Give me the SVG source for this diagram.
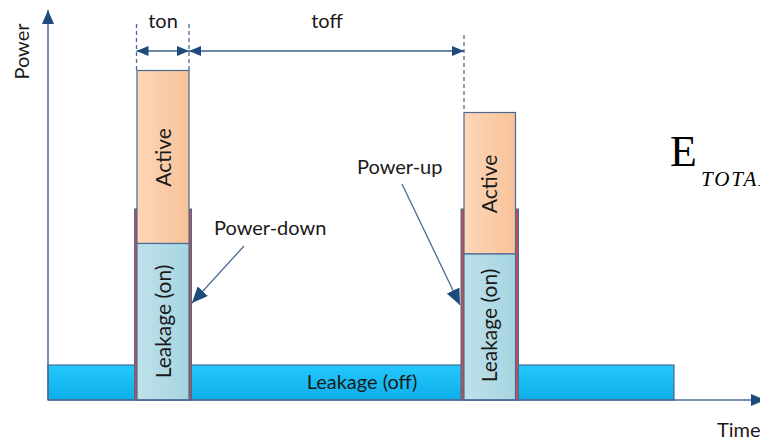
<svg xmlns="http://www.w3.org/2000/svg" width="760" height="441" viewBox="0 0 760 441">
  <style>
    .lbl { font-family: Lato, "Open Sans", sans-serif; font-size: 20px; fill: #1a1a1a; }
    .vlbl { font-family: Lato, "Open Sans", sans-serif; font-size: 21px; fill: #1a1a1a; text-anchor: middle; }
    .axis { stroke: #4a6a96; stroke-width: 1.5; fill: none; }
    .dash { stroke: #4a6a96; stroke-width: 1.3; stroke-dasharray: 4 3; fill: none; }
    .dim { stroke: #3c5f8c; stroke-width: 1.5; fill: none; }
    .ptr { stroke: #4a6a96; stroke-width: 1.3; fill: none; }
    .shell { fill: #c0504d; stroke: #4a6a96; stroke-width: 1; }
    .box { stroke: #4a6a96; stroke-width: 1.2; }
  </style>
  <defs>
    <linearGradient id="gActive" x1="0" y1="0" x2="1" y2="0">
      <stop offset="0" stop-color="#fdd7b9"/>
      <stop offset="1" stop-color="#f8c298"/>
    </linearGradient>
    <linearGradient id="gOn" x1="0" y1="0" x2="1" y2="0">
      <stop offset="0" stop-color="#bfe1ea"/>
      <stop offset="1" stop-color="#a6d4e1"/>
    </linearGradient>
    <linearGradient id="gOff" x1="0" y1="0" x2="0" y2="1">
      <stop offset="0" stop-color="#25c8fd"/>
      <stop offset="1" stop-color="#0cafe8"/>
    </linearGradient>
    <marker id="head" viewBox="0 0 12 10" refX="12" refY="5" markerWidth="12" markerHeight="10" markerUnits="userSpaceOnUse" orient="auto-start-reverse">
      <path d="M0,0 L12,5 L0,10 Z" fill="#1f4a7d"/>
    </marker>
    <marker id="ptrHead" viewBox="0 0 16 14" refX="16" refY="7" markerWidth="16" markerHeight="14" markerUnits="userSpaceOnUse" orient="auto">
      <path d="M0,0 L16,7 L0,14 Z" fill="#1f4a7d"/>
    </marker>
    <marker id="axisHead" viewBox="0 0 14 12" refX="14" refY="6" markerWidth="14" markerHeight="12" markerUnits="userSpaceOnUse" orient="auto">
      <path d="M0,0 L14,6 L0,12 Z" fill="#1f4a7d"/>
    </marker>
  </defs>

  <!-- leakage while powered off -->
  <g id="leakage-off">
    <rect x="48" y="365" width="626" height="35" fill="url(#gOff)" stroke="#4a6a96" stroke-width="1.2"/>
    <text class="lbl" x="362" y="389" text-anchor="middle">Leakage (off)</text>
  </g>

  <!-- first active burst -->
  <g id="burst-1">
    <rect class="shell" x="134.5" y="209" width="57" height="191"/>
    <rect class="box" x="137" y="70.5" width="52" height="173" fill="url(#gActive)"/>
    <rect class="box" x="137" y="243.5" width="52" height="156.5" fill="url(#gOn)"/>
    <text class="vlbl" transform="translate(170.5,157.5) rotate(-90)">Active</text>
    <text class="vlbl" transform="translate(170.5,321.5) rotate(-90)">Leakage (on)</text>
  </g>

  <!-- second active burst -->
  <g id="burst-2">
    <rect class="shell" x="461" y="209" width="57.5" height="191"/>
    <rect class="box" x="464" y="112.5" width="51.5" height="141.5" fill="url(#gActive)"/>
    <rect class="box" x="464" y="254" width="51.5" height="146" fill="url(#gOn)"/>
    <text class="vlbl" transform="translate(497,184) rotate(-90)">Active</text>
    <text class="vlbl" transform="translate(497,325.5) rotate(-90)">Leakage (on)</text>
  </g>

  <!-- axes -->
  <g id="axes">
    <line class="axis" x1="48" y1="400" x2="48" y2="10" marker-end="url(#axisHead)"/>
    <line class="axis" x1="48" y1="400" x2="765" y2="400" marker-end="url(#axisHead)"/>
    <text class="lbl" transform="translate(29,51.5) rotate(-90)" text-anchor="middle" font-size="21">Power</text>
    <text class="lbl" x="717" y="437" font-size="21">Time</text>
  </g>

  <!-- timing dimensions and callouts -->
  <g id="connectors">
    <line class="dash" x1="136.5" y1="24" x2="136.5" y2="70"/>
    <line class="dash" x1="189" y1="24" x2="189" y2="70"/>
    <line class="dash" x1="464" y1="35" x2="464" y2="112"/>
    <line class="dim" x1="136.5" y1="51" x2="189" y2="51" marker-start="url(#head)" marker-end="url(#head)"/>
    <line class="dim" x1="189" y1="51" x2="464" y2="51" marker-start="url(#head)" marker-end="url(#head)"/>
    <line class="ptr" x1="244" y1="246" x2="192" y2="303" marker-end="url(#ptrHead)"/>
    <line class="ptr" x1="402" y1="184" x2="460" y2="305" marker-end="url(#ptrHead)"/>
  </g>

  <g id="labels">
    <text class="lbl" x="163" y="28" text-anchor="middle">ton</text>
    <text class="lbl" x="327" y="28" text-anchor="middle">toff</text>
    <text class="lbl" x="214" y="235">Power-down</text>
    <text class="lbl" x="357" y="174">Power-up</text>
  </g>

  <!-- total energy expression -->
  <g id="energy">
    <text x="670" y="166" font-family="'Liberation Serif', serif" font-size="44" fill="#000">E<tspan font-size="21" font-style="italic" letter-spacing="2" dy="20" dx="4">TOTAL</tspan></text>
  </g>
</svg>
